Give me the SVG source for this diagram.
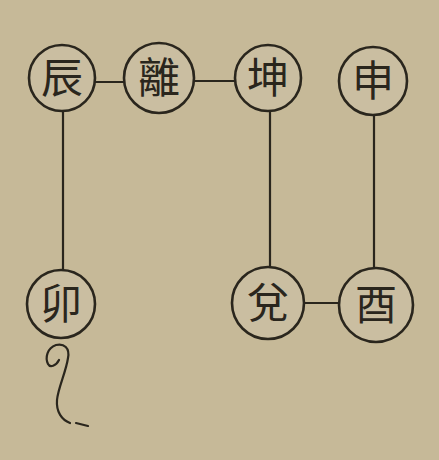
<svg xmlns="http://www.w3.org/2000/svg" width="439" height="460" viewBox="0 0 439 460">
<defs>
<style>
.bg{fill:#c6b998}
.node circle{fill:#cabea1;stroke:#2a261d;stroke-width:2.6}
.node text{font-family:"Noto Sans CJK TC","Noto Sans CJK SC",serif;font-size:42px;fill:#2a261d;text-anchor:middle}
.conn line,.conn path{stroke:#2a261d;stroke-width:2.2;fill:none;stroke-linecap:round}
</style>
</defs>
<rect class="bg" x="0" y="0" width="439" height="460"/>
<g id="connectors" class="conn">
<line x1="95" y1="82" x2="125" y2="82"/>
<line x1="194" y1="81" x2="235" y2="81"/>
<line x1="63" y1="112" x2="63" y2="270"/>
<line x1="270" y1="112" x2="270" y2="268"/>
<line x1="374" y1="115" x2="374" y2="268"/>
<line x1="304" y1="303" x2="340" y2="303"/>
</g>
<g id="node-chen" class="node"><circle cx="62" cy="78" r="33"/><text x="62" y="93">辰</text></g>
<g id="node-li" class="node"><circle cx="159" cy="78" r="35"/><text x="159" y="93">離</text></g>
<g id="node-kun" class="node"><circle cx="268" cy="78" r="33"/><text x="268" y="93">坤</text></g>
<g id="node-shen" class="node"><circle cx="373" cy="81" r="34"/><text x="373" y="96">申</text></g>
<g id="node-mao" class="node"><circle cx="61" cy="304" r="34"/><text x="61" y="319">卯</text></g>
<g id="node-dui" class="node"><circle cx="268" cy="303" r="36"/><text x="268" y="318">兌</text></g>
<g id="node-you" class="node"><circle cx="376" cy="305" r="37"/><text x="376" y="320">酉</text></g>
<g id="squiggle" class="conn">
<path d="M59,360 C56,366 50,368 48,364 C45,358 47,348 56,345 C64,343 70,348 68,358 C66,372 58,388 57,400 C56,412 62,420 70,423" stroke-width="3.4"/>
<path d="M76,423 L88,426" stroke-width="2.6"/>
</g>
</svg>
